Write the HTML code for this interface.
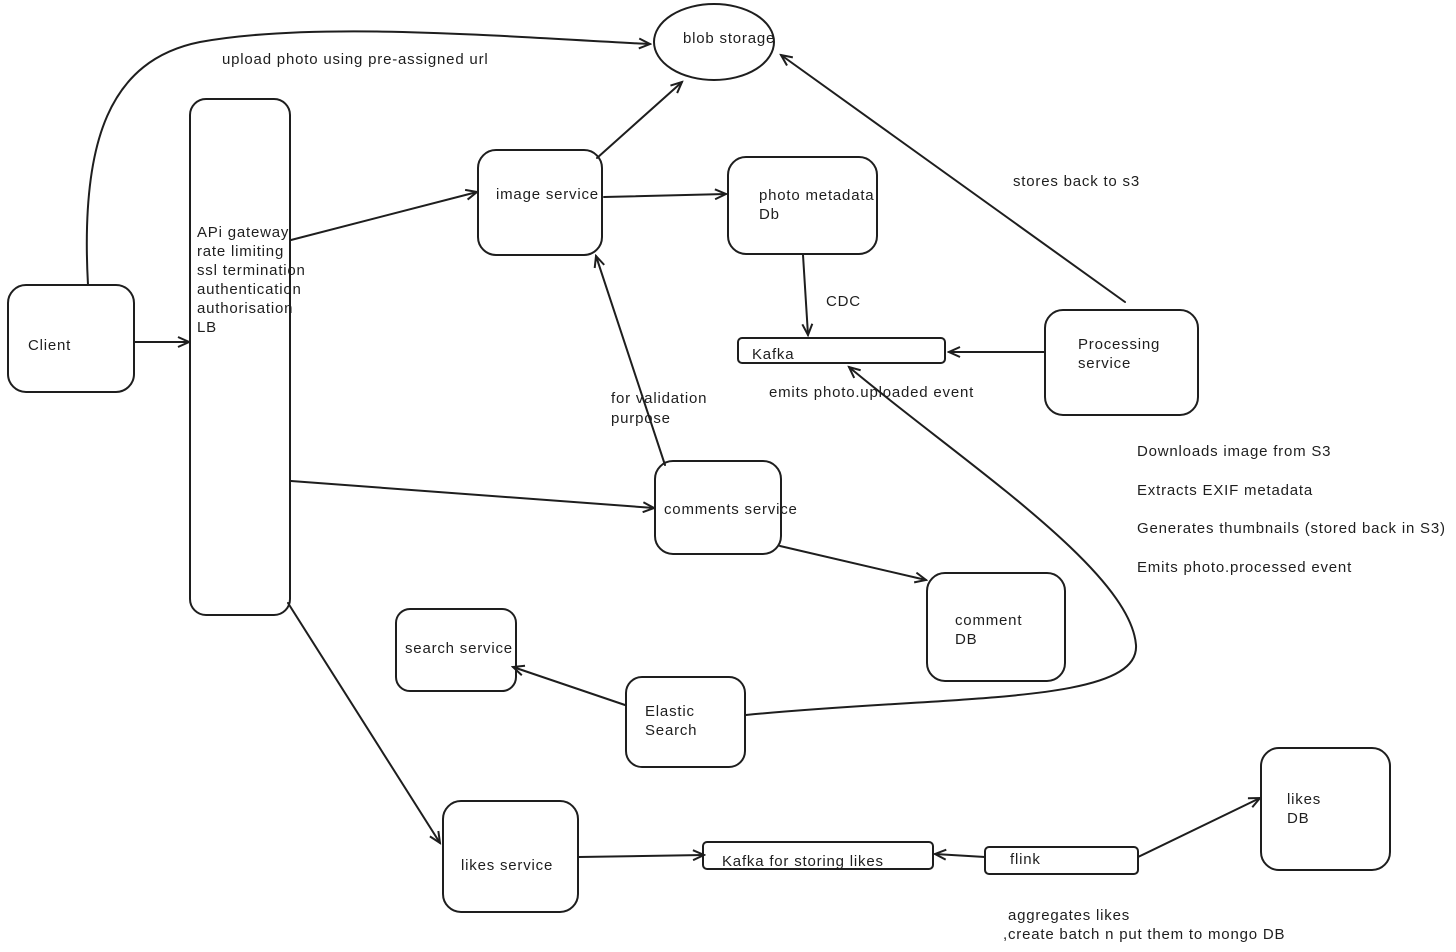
<!DOCTYPE html>
<html><head><meta charset="utf-8"><style>
html,body{margin:0;padding:0;background:#fff;}
svg{display:block}
text{font-family:"Liberation Sans",sans-serif;font-size:15px;fill:#1e1e1e;letter-spacing:0.8px;}
.s{fill:none;stroke:#1e1e1e;stroke-width:2;stroke-linecap:round;stroke-linejoin:round}
</style></head><body>
<svg width="1456" height="952" viewBox="0 0 1456 952" xmlns="http://www.w3.org/2000/svg">
<defs><marker id="a" markerWidth="14" markerHeight="12" refX="12" refY="6" orient="auto" markerUnits="userSpaceOnUse"><path d="M1,1 L12,6 L1,11" fill="none" stroke="#1e1e1e" stroke-width="2"/></marker></defs>

<ellipse class="s" cx="714" cy="42" rx="60" ry="38"/>
<text x="683" y="43">blob storage</text>

<path class="s" d="M88,285 C80,140 110,60 200,42 C320,20 520,38 650,44" marker-end="url(#a)"/>
<text x="222" y="64">upload photo using pre-assigned url</text>

<rect class="s" x="190" y="99" width="100" height="516" rx="16"/>
<text x="197" y="237">APi gateway</text>
<text x="197" y="256">rate limiting</text>
<text x="197" y="275">ssl termination</text>
<text x="197" y="294">authentication</text>
<text x="197" y="313">authorisation</text>
<text x="197" y="332">LB</text>

<rect class="s" x="8" y="285" width="126" height="107" rx="18"/>
<text x="28" y="350">Client</text>
<path class="s" d="M134,342 L189,342" marker-end="url(#a)"/>

<rect class="s" x="478" y="150" width="124" height="105" rx="18"/>
<text x="496" y="199">image service</text>
<path class="s" d="M291,240 L477,192" marker-end="url(#a)"/>
<path class="s" d="M597,158 L682,82" marker-end="url(#a)"/>
<path class="s" d="M604,197 L726,194" marker-end="url(#a)"/>

<rect class="s" x="728" y="157" width="149" height="97" rx="18"/>
<text x="759" y="200">photo metadata</text>
<text x="759" y="219">Db</text>
<path class="s" d="M803,255 L808,335" marker-end="url(#a)"/>
<text x="826" y="306">CDC</text>

<rect class="s" x="738" y="338" width="207" height="25" rx="4"/>
<text x="752" y="359">Kafka</text>
<text x="769" y="397">emits photo.uploaded event</text>

<rect class="s" x="1045" y="310" width="153" height="105" rx="18"/>
<text x="1078" y="349">Processing</text>
<text x="1078" y="368">service</text>
<path class="s" d="M1045,352 L949,352" marker-end="url(#a)"/>
<path class="s" d="M1125,302 L781,55" marker-end="url(#a)"/>
<text x="1013" y="186">stores back to s3</text>

<text x="1137" y="456">Downloads image from S3</text>
<text x="1137" y="495">Extracts EXIF metadata</text>
<text x="1137" y="533">Generates thumbnails (stored back in S3)</text>
<text x="1137" y="572">Emits photo.processed event</text>

<rect class="s" x="655" y="461" width="126" height="93" rx="18"/>
<text x="664" y="514">comments service</text>
<path class="s" d="M291,481 L654,508" marker-end="url(#a)"/>
<path class="s" d="M665,465 L596,256" marker-end="url(#a)"/>
<text x="611" y="403">for validation</text>
<text x="611" y="423">purpose</text>
<path class="s" d="M780,546 L926,580" marker-end="url(#a)"/>

<rect class="s" x="927" y="573" width="138" height="108" rx="18"/>
<text x="955" y="625">comment</text>
<text x="955" y="644">DB</text>

<rect class="s" x="396" y="609" width="120" height="82" rx="14"/>
<text x="405" y="653">search service</text>

<rect class="s" x="626" y="677" width="119" height="90" rx="16"/>
<text x="645" y="716">Elastic</text>
<text x="645" y="735">Search</text>
<path class="s" d="M625,705 L513,667" marker-end="url(#a)"/>
<path class="s" d="M746,715 C950,695 1140,705 1136,645 C1130,570 960,460 849,367" marker-end="url(#a)"/>

<path class="s" d="M288,603 L440,843" marker-end="url(#a)"/>
<rect class="s" x="443" y="801" width="135" height="111" rx="18"/>
<text x="461" y="870">likes service</text>
<path class="s" d="M579,857 L704,855" marker-end="url(#a)"/>

<rect class="s" x="703" y="842" width="230" height="27" rx="4"/>
<text x="722" y="866">Kafka for storing likes</text>

<rect class="s" x="985" y="847" width="153" height="27" rx="4"/>
<text x="1010" y="864">flink</text>
<path class="s" d="M985,857 L935,854" marker-end="url(#a)"/>
<path class="s" d="M1138,857 L1260,798" marker-end="url(#a)"/>

<rect class="s" x="1261" y="748" width="129" height="122" rx="18"/>
<text x="1287" y="804">likes</text>
<text x="1287" y="823">DB</text>

<text x="1008" y="920">aggregates likes</text>
<text x="1003" y="939">,create batch n put them to mongo DB</text>
</svg>
</body></html>
